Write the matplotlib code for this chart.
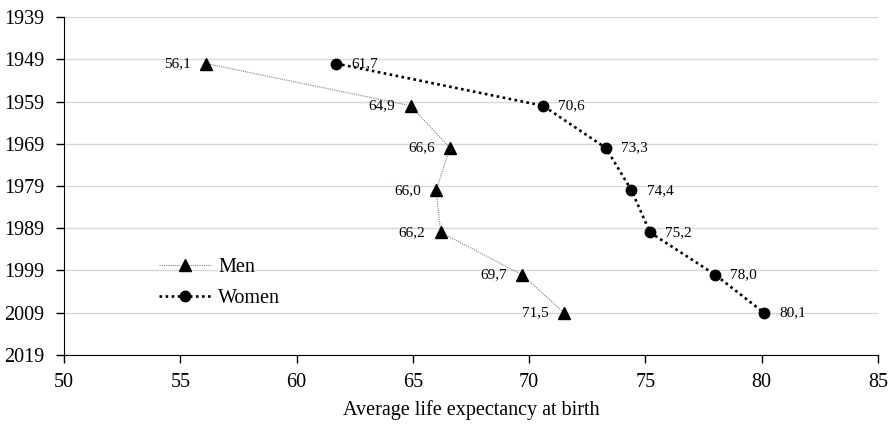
import numpy as np
import matplotlib.pyplot as plt
from matplotlib.ticker import MultipleLocator

# data
years = [1950, 1960, 1970, 1980, 1990, 2000, 2009]
men = [56.1, 64.9, 66.6, 66.0, 66.2, 69.7, 71.5]
women = [61.7, 70.6, 73.3, 74.4, 75.2, 78.0, 80.1]
year_ticks = np.arange(1939, 2020, 10)

plt.rcParams["font.family"] = ["Liberation Serif", "DejaVu Serif"]

fig = plt.figure(dpi=100, figsize=(8.9, 4.26))
ax = fig.add_axes([0.0719, 0.1667, 0.9146, 0.7933])

ax.plot(men, years, color="#808080", lw=0.8, linestyle=(0, (1, 1)),
        marker="^", ms=8, mfc="black", mec="black", label="Men", zorder=3)
ax.plot(women, years, color="black", lw=1.9, linestyle=(0, (1, 1.3)),
        marker="o", ms=7.5, mfc="black", mec="black", label="Women", zorder=3)

# labels with comma decimals
for x, y in zip(men, years):
    ax.annotate(f"{x:.1f}".replace(".", ","), (x, y), xytext=(-11, 0),
                textcoords="offset points", ha="right", va="center", fontsize=11)
for x, y in zip(women, years):
    ax.annotate(f"{x:.1f}".replace(".", ","), (x, y), xytext=(11, 0),
                textcoords="offset points", ha="left", va="center", fontsize=11)

ax.set_xlim(50, 85)
ax.set_ylim(2019, 1939)
ax.xaxis.set_major_locator(MultipleLocator(5))
ax.set_yticks(year_ticks)
ax.grid(axis="y", color="#dcd8cc", lw=1)
ax.set_axisbelow(True)

ax.tick_params(axis="both", direction="out", length=6, width=1, labelsize=14.5)
ax.tick_params(axis="x", pad=7)
ax.tick_params(axis="y", pad=8)
ax.set_xlabel("Average life expectancy at birth", fontsize=14.5, labelpad=6)

for s in ["top", "right"]:
    ax.spines[s].set_visible(False)
for s in ["left", "bottom"]:
    ax.spines[s].set_color("black")

ax.legend(loc="center left", bbox_to_anchor=(0.104, 0.213), frameon=False,
          fontsize=14.5, borderpad=0, handlelength=2.6, handletextpad=0.35,
          labelspacing=0.6)

plt.savefig("out.png")
